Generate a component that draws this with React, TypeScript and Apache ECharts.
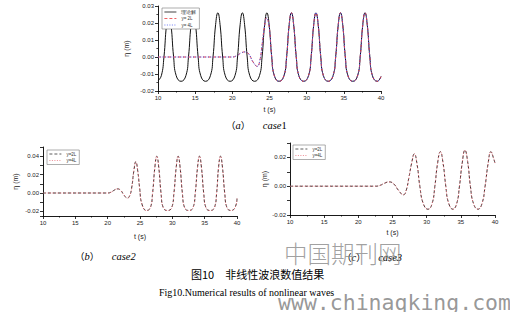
import React, { useEffect, useRef } from 'react';
import * as echarts from 'echarts';

// ---------- (a) case1 ----------
const case1TheoryTime = [
  10.0, 10.45, 10.8, 11.15, 11.45, 11.75, 12.1, 12.45, 13.1,
  13.75, 14.1, 14.45, 14.75, 15.05, 15.4, 15.75, 16.4,
  17.05, 17.4, 17.75, 18.05, 18.35, 18.7, 19.05, 19.7,
  20.35, 20.7, 21.05, 21.35, 21.65, 22.0, 22.35, 23.0,
  23.65, 24.0, 24.35, 24.65, 24.95, 25.3, 25.65, 26.3,
  26.95, 27.3, 27.65, 27.95, 28.25, 28.6, 28.95, 29.6,
  30.25, 30.6, 30.95, 31.25, 31.55, 31.9, 32.25, 32.9,
  33.55, 33.9, 34.25, 34.55, 34.85, 35.2, 35.55, 36.2,
  36.85, 37.2, 37.55, 37.85, 38.15, 38.5, 38.85, 39.5, 40.0,
];
const case1TheoryEta = [
  -0.014, -0.011, 0.0, 0.019, 0.026, 0.019, 0.0, -0.011, -0.0143,
  -0.011, 0.0, 0.019, 0.026, 0.019, 0.0, -0.011, -0.0143,
  -0.011, 0.0, 0.019, 0.026, 0.019, 0.0, -0.011, -0.0143,
  -0.011, 0.0, 0.019, 0.026, 0.019, 0.0, -0.011, -0.0143,
  -0.011, 0.0, 0.019, 0.026, 0.019, 0.0, -0.011, -0.0143,
  -0.011, 0.0, 0.019, 0.026, 0.019, 0.0, -0.011, -0.0143,
  -0.011, 0.0, 0.019, 0.026, 0.019, 0.0, -0.011, -0.0143,
  -0.011, 0.0, 0.019, 0.026, 0.019, 0.0, -0.011, -0.0143,
  -0.011, 0.0, 0.019, 0.026, 0.019, 0.0, -0.011, -0.0143, -0.0115,
];
const case1NumTime = [
  10.0, 20.0, 20.6, 21.2, 21.7, 22.2, 22.8, 23.35,
  23.7, 24.0, 24.3, 24.6, 24.95, 25.3, 25.65, 26.3,
  26.95, 27.3, 27.65, 27.95, 28.25, 28.6, 28.95, 29.6,
  30.25, 30.6, 30.95, 31.25, 31.55, 31.9, 32.25, 32.9,
  33.55, 33.9, 34.25, 34.55, 34.85, 35.2, 35.55, 36.2,
  36.85, 37.2, 37.55, 37.85, 38.15, 38.5, 38.85, 39.5, 40.0,
];
const case1Eta2L = [
  0.0, 0.0, 0.0008, 0.0024, 0.003, 0.0018, -0.003, -0.0055,
  -0.002, 0.007, 0.017, 0.023, 0.018, 0.0, -0.011, -0.0143,
  -0.011, 0.0, 0.019, 0.026, 0.019, 0.0, -0.011, -0.0143,
  -0.011, 0.0, 0.019, 0.026, 0.019, 0.0, -0.011, -0.0143,
  -0.011, 0.0, 0.019, 0.026, 0.019, 0.0, -0.011, -0.0143,
  -0.011, 0.0, 0.019, 0.026, 0.019, 0.0, -0.011, -0.0143, -0.0115,
];
const case1Eta4L = case1Eta2L;

// ---------- (b) case2 ----------
const case2Time = [
  10.0, 20.0, 20.5, 21.0, 21.5, 22.0, 22.5, 23.05, 23.4, 23.7,
  24.05, 24.35, 24.65, 24.95, 25.3, 26.0,
  26.6, 26.95, 27.3, 27.6, 27.9, 28.25, 28.6, 29.25,
  29.9, 30.25, 30.6, 30.9, 31.2, 31.55, 31.9, 32.55,
  33.2, 33.55, 33.9, 34.2, 34.5, 34.85, 35.2, 35.85,
  36.5, 36.85, 37.15, 37.45, 37.75, 38.1, 38.45, 39.1,
  39.75, 40.0,
];
const case2Eta2L = [
  0.0, 0.0, 0.0008, 0.003, 0.0045, 0.003, -0.002, -0.0055, -0.003, 0.005,
  0.024, 0.034, 0.024, 0.005, -0.012, -0.019,
  -0.016, 0.0, 0.028, 0.04, 0.028, 0.0, -0.016, -0.019,
  -0.016, 0.0, 0.028, 0.04, 0.028, 0.0, -0.016, -0.019,
  -0.016, 0.0, 0.028, 0.04, 0.028, 0.0, -0.016, -0.019,
  -0.016, 0.0, 0.028, 0.04, 0.028, 0.0, -0.016, -0.019,
  -0.015, -0.006,
];
const case2Eta4L = case2Eta2L;

// ---------- (c) case3 ----------
const case3Time = [
  10.0, 22.5, 23.2, 23.8, 24.5, 25.2, 25.9, 26.6, 27.0, 27.4,
  27.8, 28.2, 28.6, 29.0, 29.5, 30.2,
  30.8, 31.2, 31.6, 32.0, 32.4, 32.8, 33.2, 33.85,
  34.4, 34.8, 35.2, 35.6, 36.0, 36.4, 36.85, 37.5,
  38.1, 38.55, 39.0, 39.4, 39.75, 40.0,
];
const case3Eta2L = [
  0.0, 0.0, 0.0006, 0.002, 0.003, 0.0015, -0.003, -0.006, -0.003, 0.006,
  0.016, 0.0225, 0.015, 0.0, -0.012, -0.016,
  -0.012, 0.0, 0.016, 0.024, 0.016, 0.0, -0.0115, -0.016,
  -0.012, 0.0, 0.016, 0.025, 0.017, 0.0, -0.012, -0.016,
  -0.012, 0.0, 0.016, 0.024, 0.02, 0.016,
];
const case3Eta4L = case3Eta2L;

const SANS = 'Liberation Sans';
const SERIF = 'Liberation Serif';
const CJK = 'Noto Sans CJK SC';

const zip = (t: number[], v: number[]) => t.map((x, i) => [x, v[i]]);

const fmt = (step: number) => (v: number) => {
  const r = v / step;
  if (Math.abs(r - Math.round(r)) > 1e-6) return '';
  if (Math.abs(v) < 1e-9) return '0.00';
  return v.toFixed(2);
};

function xAxis(gridIndex: number, nameGap: number) {
  return {
    type: 'value', gridIndex, min: 10, max: 40, interval: 5,
    name: 't (s)', nameLocation: 'middle', nameGap,
    nameTextStyle: { fontSize: 7, color: '#222', fontFamily: SANS },
    axisLine: { show: true, onZero: false, lineStyle: { color: '#000', width: 0.9 } },
    axisTick: { show: true, length: 3, lineStyle: { color: '#000', width: 0.8 } },
    minorTick: { show: true, splitNumber: 2, length: 1.6, lineStyle: { color: '#000', width: 0.7 } },
    axisLabel: { fontSize: 6, color: '#222', fontFamily: SANS, margin: 4 },
    splitLine: { show: false },
  };
}

function yAxis(gridIndex: number, min: number, max: number, step: number, labelStep: number,
  nameGap: number, fixedInterval: boolean, minor: boolean) {
  const iv = fixedInterval ? { interval: step } : { minInterval: step, maxInterval: step };
  return {
    type: 'value', gridIndex, min, max, ...iv,
    name: 'η (m)', nameLocation: 'middle', nameGap,
    nameTextStyle: { fontSize: 7, color: '#222', fontFamily: SANS },
    axisLine: { show: true, onZero: false, lineStyle: { color: '#000', width: 0.9 } },
    axisTick: { show: true, length: 3, lineStyle: { color: '#000', width: 0.8 } },
    minorTick: { show: minor, splitNumber: 2, length: 1.6, lineStyle: { color: '#000', width: 0.7 } },
    axisLabel: { fontSize: 6, color: '#222', fontFamily: SANS, margin: 4, formatter: fmt(labelStep) },
    splitLine: { show: false },
  };
}

function legend(names: string[], left: number, top: number) {
  return {
    data: names, left, top, orient: 'vertical', selectedMode: false,
    itemWidth: 12, itemHeight: 4, itemGap: 1.5, padding: [1.5, 3, 1.5, 2],
    borderColor: '#777', borderWidth: 0.6, backgroundColor: '#fff',
    itemStyle: { opacity: 0, borderWidth: 0, color: 'transparent', borderColor: 'transparent' },
    lineStyle: { width: 0.8 },
    textStyle: { fontSize: 4.5, color: '#333', fontFamily: SANS },
  };
}

function line(name: string, xi: number, data: number[][], color: string, type: any, width: number, z: number) {
  return {
    type: 'line', name, xAxisIndex: xi, yAxisIndex: xi, data,
    symbol: 'none', showSymbol: false, smooth: 0.5, color, z,
    lineStyle: { color, width, type },
    itemStyle: { color },
  };
}

function caption(label: string, rest: string, restItalicDigit: boolean, x: number, y: number) {
  const text = restItalicDigit
    ? `{p|（}{i|${label}}{p|）}{s|     }{i|${rest}}`
    : `{p|（}{i|${label}}{p|）}{s|     }{i|${rest.slice(0, -1)}}{n|${rest.slice(-1)}}`;
  return {
    type: 'text', x, y, z: 10,
    style: {
      text,
      align: 'left', verticalAlign: 'middle', textAlign: 'left', textVerticalAlign: 'middle',
      rich: {
        p: { fontFamily: CJK, fontSize: 9.5, fill: '#000', color: '#000' },
        i: { fontFamily: SERIF, fontStyle: 'italic', fontSize: 10.5, fill: '#000', color: '#000' },
        n: { fontFamily: SERIF, fontSize: 10.5, fill: '#000', color: '#000' },
        s: { fontFamily: SERIF, fontSize: 10, fill: '#000', color: '#000' },
      },
    },
  };
}

export default function App() {
  const ref = useRef<HTMLDivElement>(null);
  useEffect(() => {
    if (!ref.current) return;
    const chart = echarts.init(ref.current, undefined, { renderer: 'svg' });
    chart.setOption({
      animation: false,
      backgroundColor: '#fff',
      textStyle: { fontFamily: SANS },
      grid: [
        { left: 158, top: 6, width: 223, height: 85, containLabel: false, outerBoundsMode: 'none' },
        { left: 43, top: 147, width: 194, height: 69, containLabel: false, outerBoundsMode: 'none' },
        { left: 290, top: 143, width: 205, height: 72, containLabel: false, outerBoundsMode: 'none' },
      ],
      xAxis: [xAxis(0, 14.5), xAxis(1, 16.5), xAxis(2, 13.5)],
      yAxis: [
        yAxis(0, -0.02, 0.03, 0.01, 0.01, 28, true, true),
        yAxis(1, -0.025, 0.05, 0.01, 0.02, 24, false, false),
        yAxis(2, -0.02, 0.03, 0.01, 0.02, 22, true, false),
      ],
      legend: [
        legend(['理论解', 'y= 2L', 'y= 4L'], 162, 8),
        legend(['y=2L', 'y=4L'], 47, 150),
        legend(['y=2L', 'y=4L'], 293, 145),
      ],
      series: [
        line('理论解', 0, zip(case1TheoryTime, case1TheoryEta), '#111', 'solid', 1, 2),
        line('y= 2L', 0, zip(case1NumTime, case1Eta2L), '#e8383d', [3, 2], 1, 3),
        line('y= 4L', 0, zip(case1NumTime, case1Eta4L), '#4a5cf0', [1, 1.5], 1, 4),
        line('y=2L', 1, zip(case2Time, case2Eta2L), '#333', [3, 2], 1, 3),
        line('y=4L', 1, zip(case2Time, case2Eta4L), '#e8707a', [1, 1.5], 1, 4),
        line('y=2L', 2, zip(case3Time, case3Eta2L), '#333', [3, 2], 1, 3),
        line('y=4L', 2, zip(case3Time, case3Eta4L), '#e8707a', [1, 1.5], 1, 4),
      ],
      graphic: [
        caption('a', 'case1', false, 226, 125),
        caption('b', 'case2', true, 75, 256),
        caption('c', 'case3', true, 342, 257),
        {
          type: 'text', x: 191, y: 274, z: 10,
          style: {
            text: '图10　非线性波浪数值结果', fontFamily: CJK, fontSize: 11, fill: '#000',
            align: 'left', verticalAlign: 'middle', textAlign: 'left', textVerticalAlign: 'middle',
          },
        },
        {
          type: 'text', x: 159, y: 292, z: 10,
          style: {
            text: 'Fig10.Numerical results of nonlinear waves', fontFamily: SERIF, fontSize: 10, fill: '#000',
            align: 'left', verticalAlign: 'middle', textAlign: 'left', textVerticalAlign: 'middle',
          },
        },
        {
          type: 'text', x: 284, y: 253, z: 20,
          style: {
            text: '中国期刊网', fontFamily: CJK, fontSize: 23.5, fontWeight: 300, fill: 'rgba(130,130,130,0.75)',
            align: 'left', verticalAlign: 'middle', textAlign: 'left', textVerticalAlign: 'middle',
          },
        },
        {
          type: 'text', x: 278, y: 302, z: 20,
          style: {
            text: 'www.chinaqking.com', fontFamily: 'DejaVu Sans Mono', fontSize: 21.5, fill: 'rgba(125,125,125,0.8)',
            align: 'left', verticalAlign: 'middle', textAlign: 'left', textVerticalAlign: 'middle',
          },
        },
      ],
    });
    return () => chart.dispose();
  }, []);
  return (
    <div
      ref={ref}
      style={{ position: 'absolute', left: 0, top: 0, width: 510, height: 312, background: '#fff' }}
    />
  );
}
